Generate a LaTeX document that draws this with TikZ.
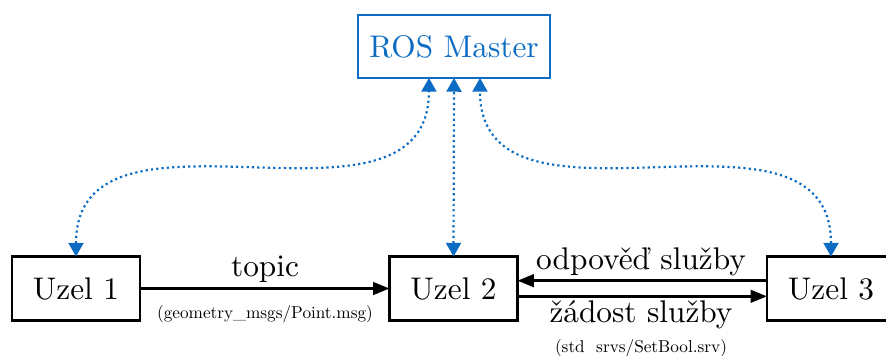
\documentclass[tikz,border=0pt]{standalone}
\usetikzlibrary{arrows.meta}
\definecolor{rosblue}{RGB}{12,108,196}
\begin{document}
\begin{tikzpicture}[x=0.3194pt,y=-0.3194pt,
  box/.style={draw, line width=0.7pt, inner sep=0pt, outer sep=0pt,
    minimum width=40.9pt, minimum height=20.4pt},
  master/.style={box, draw=rosblue, text=rosblue, minimum width=61.3pt, minimum height=20.1pt},
  msg/.style={-{Triangle[length=5.2pt,width=4pt]}, line width=0.8pt},
  link/.style={{Triangle[length=4.4pt,width=4.8pt]}-{Triangle[length=4.4pt,width=4.8pt]},
    rosblue, line width=0.7pt, densely dotted},
  small/.style={inner sep=0pt}]
  \useasboundingbox (0,0) rectangle (886,356);

  % nodes
  \node[master] (ros) at (454,46.5) {ROS Master};
  \node[box] (u1) at (76,288.5) {Uzel 1};
  \node[box] (u2) at (453.5,288.5) {Uzel 2};
  \node[box] (u3) at (831,288.5) {Uzel 3};

  % attachment points on the master
  \coordinate (rosL) at ([xshift=-8pt]ros.south);
  \coordinate (rosR) at ([xshift=8.3pt]ros.south);

  % registration links to the master
  \draw[link] (u1.north) .. controls +(0,-176) and +(0,176) .. (rosL);
  \draw[link] (u2.north) -- (ros.south);
  \draw[link] (u3.north) .. controls +(0,-176) and +(0,176) .. (rosR);

  % topic
  \draw[msg] (u1.east) -- (u2.west);
  \node[inner sep=0pt] (topic) at (265,269) {topic};
  \node[small] (topicmsg) at (265,314.5) {\scalebox{0.55}{(geometry\_msgs/Point.msg)}};

  % service
  \draw[msg] ([yshift=2.5pt]u3.west) -- ([yshift=2.5pt]u2.east);
  \draw[msg] ([yshift=-2.5pt]u2.east) -- ([yshift=-2.5pt]u3.west);
  \node[inner sep=0pt] (resp) at (641,261.5) {odpověď služby};
  \node[inner sep=0pt] (req) at (641,315) {žádost služby};
  \node[small] (srv) at (641,348) {\scalebox{0.55}{(std\ \ srvs/SetBool.srv)}};
\end{tikzpicture}
\end{document}
